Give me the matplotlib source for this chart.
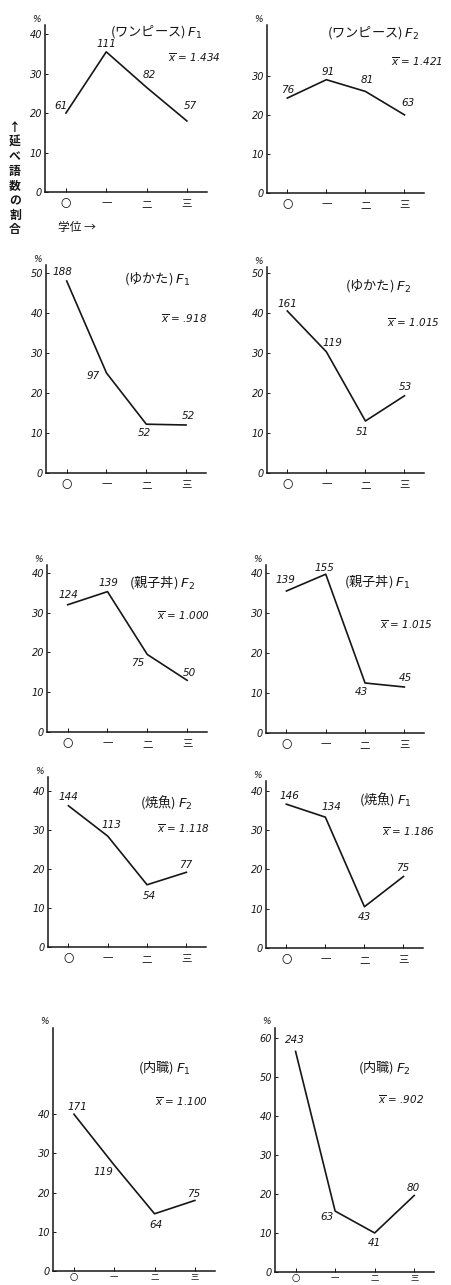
import numpy as np
import matplotlib
matplotlib.use('Agg')
import matplotlib.pyplot as plt

CJK = ['Noto Sans CJK JP', 'DejaVu Sans']
plt.rcParams['font.family'] = CJK
plt.rcParams['mathtext.fontset'] = 'dejavusans'

# --- data (percent of words, with counts written on the points)
grades = ['〇', '一', '二', '三']

onepiece_f1_n = [61, 111, 82, 57]
onepiece_f1_pct = [20.0, 35.5, 26.5, 18.0]
onepiece_f2_n = [76, 91, 81, 63]
onepiece_f2_pct = [24.3, 29.0, 26.0, 20.0]

yukata_f1_n = [188, 97, 52, 52]
yukata_f1_pct = [48.0, 25.0, 12.2, 12.0]
yukata_f2_n = [161, 119, 51, 53]
yukata_f2_pct = [40.5, 30.3, 13.0, 19.3]

oyako_f2_n = [124, 139, 75, 50]
oyako_f2_pct = [32.0, 35.3, 19.5, 13.0]
oyako_f1_n = [139, 155, 43, 45]
oyako_f1_pct = [35.5, 39.7, 12.5, 11.5]

yaki_f2_n = [144, 113, 54, 77]
yaki_f2_pct = [36.3, 28.5, 16.0, 19.2]
yaki_f1_n = [146, 134, 43, 75]
yaki_f1_pct = [36.6, 33.3, 10.5, 18.2]

naishoku_f1_n = [171, 119, 64, 75]
naishoku_f1_pct = [40.0, 27.0, 14.6, 18.0]
naishoku_f2_n = [243, 63, 41, 80]
naishoku_f2_pct = [56.5, 15.6, 10.0, 19.6]

titles = ['(ワンピース) $F_1$', '(ワンピース) $F_2$',
          '(ゆかた) $F_1$', '(ゆかた) $F_2$',
          '(親子丼) $F_2$', '(親子丼) $F_1$',
          '(焼魚) $F_2$', '(焼魚) $F_1$',
          '(内職) $F_1$', '(内職) $F_2$']
xbars = ['1.434', '1.421', '.918', '1.015', '1.000',
         '1.015', '1.118', '1.186', '1.100', '.902']

series = [(onepiece_f1_n, onepiece_f1_pct), (onepiece_f2_n, onepiece_f2_pct),
          (yukata_f1_n, yukata_f1_pct), (yukata_f2_n, yukata_f2_pct),
          (oyako_f2_n, oyako_f2_pct), (oyako_f1_n, oyako_f1_pct),
          (yaki_f2_n, yaki_f2_pct), (yaki_f1_n, yaki_f1_pct),
          (naishoku_f1_n, naishoku_f1_pct), (naishoku_f2_n, naishoku_f2_pct)]

# --- layout in pixels of the 452x1285 page: (x0, x1, y_bottom, y_top)
W, H = 452, 1285
rects = [(45, 207, 192, 25), (267, 424, 193, 25),
         (46, 206, 473, 265), (267, 424, 473, 267),
         (47, 207, 732, 565), (266, 424, 733, 565),
         (48, 206, 947, 777), (266, 423, 948, 781),
         (53, 215, 1271, 1028), (275, 434, 1272, 1028)]
ytops = [42.3, 43, 52, 51.5, 42, 42, 43.7, 42.5, 62, 62.5]
ytick_max = [40, 30, 50, 50, 40, 40, 40, 40, 40, 60]
title_xy = [(156, 32), (373, 33), (157, 278), (378, 285), (162, 583),
            (377, 582), (166, 802), (385, 799), (164, 1068), (384, 1068)]
xbar_xy = [(194, 58), (417, 62), (184, 319), (413, 323), (183, 616),
           (406, 625), (183, 829), (408, 832), (181, 1102), (401, 1100)]
label_off = [[(-5, 7), (0, 8), (3, 12), (4, 15)],
             [(0, 8), (2, 8), (2, 11), (3, 12)],
             [(-4, 9), (-13, -3), (-2, -9), (2, 9)],
             [(0, 7), (6, 9), (-3, -11), (1, 9)],
             [(1, 10), (1, 9), (-10, -9), (2, 7)],
             [(-1, 11), (-1, 6), (-4, -9), (1, 9)],
             [(0, 9), (4, 11), (2, -11), (-1, 7)],
             [(3, 8), (6, 10), (0, -10), (-1, 8)],
             [(3, 7), (-11, -7), (1, -11), (-1, 6)],
             [(-1, 11), (-8, -6), (0, -10), (-1, 7)]]

ink = '#161616'
fig = plt.figure(figsize=(W / 100, H / 100), dpi=100)

def fxy(px, py):
    return px / W, 1 - py / H

x = np.arange(len(grades))
for i, (counts, pct) in enumerate(series):
    x0, x1, yb, yt = rects[i]
    ax = fig.add_axes([x0 / W, 1 - yb / H, (x1 - x0) / W, (yb - yt) / H])
    ax.patch.set_alpha(0)
    ax.plot(x, pct, color=ink, lw=1.2)
    ax.set_xlim(-0.52, 3.5)
    ax.set_ylim(0, ytops[i])
    for s in ['top', 'right']:
        ax.spines[s].set_visible(False)
    for s in ['left', 'bottom']:
        ax.spines[s].set_color(ink)
        ax.spines[s].set_linewidth(1.1)
    ax.set_yticks(np.arange(0, ytick_max[i] + 1, 10))
    ax.set_yticklabels([str(v) for v in range(0, ytick_max[i] + 1, 10)],
                       family='DejaVu Sans', style='italic', fontsize=7)
    ax.set_xticks(x)
    bottom_row = i >= 8
    ax.set_xticklabels(grades, fontsize=6 if bottom_row else 7.5)
    ax.tick_params(axis='y', direction='in', length=2.5, width=0.7, pad=2, colors=ink)
    ax.tick_params(axis='x', direction='in', length=3, width=0.7,
                   pad=1.5 if bottom_row else 5, colors=ink)
    for xi, (n, p) in enumerate(zip(counts, pct)):
        dx, dy = label_off[i][xi]
        ax.annotate(str(n), (xi, p), xytext=(dx, dy), textcoords='offset pixels',
                    ha='center', va='center', fontsize=7.5, style='italic',
                    family='DejaVu Sans', color=ink)
    fig.text(*fxy(x0 - 9, yt - 6), '%', ha='center', va='center',
             fontsize=6.5, style='italic', family='DejaVu Sans', color=ink)
    fig.text(*fxy(*title_xy[i]), titles[i], ha='center', va='center',
             fontsize=9.5, color=ink)
    fig.text(*fxy(*xbar_xy[i]), r'$\overline{x}$ = ' + xbars[i], ha='center',
             va='center', fontsize=7.5, style='italic', family='DejaVu Sans',
             color=ink)

# axis names written once, on the first panel
for k, ch in enumerate('↑延べ語数の割合'):
    fig.text(*fxy(15, 128 + 14.5 * k), ch, ha='center', va='center',
             fontsize=8.5, weight='bold', color=ink)
fig.text(*fxy(77, 227), '学位 →', ha='center', va='center', fontsize=8.5,
         color=ink)

fig.savefig('out.png', dpi=100, facecolor='white')
